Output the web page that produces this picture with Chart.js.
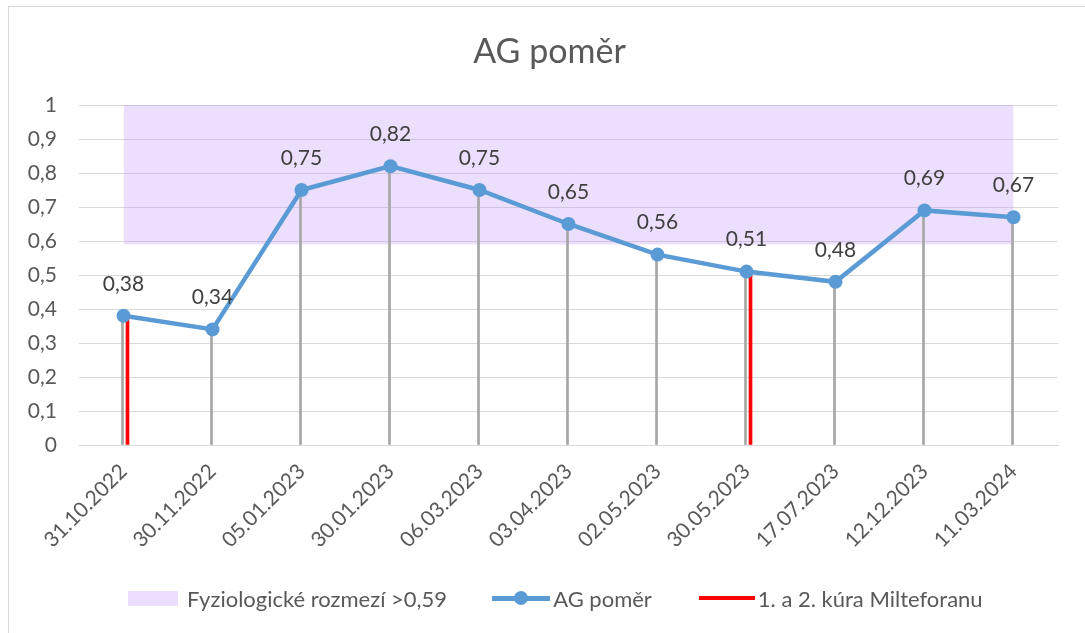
<!DOCTYPE html>
<html>
<head>
<meta charset="utf-8">
<script src="https://cdn.jsdelivr.net/npm/chart.js@4.4.1/dist/chart.umd.min.js"></script>
<style>
	html, body { margin: 0; padding: 0; background: #fff; }
	#wrap { position: relative; width: 1085px; height: 633px; overflow: hidden; font-family: Lato, sans-serif; }
	#frame { position: absolute; left: 8px; top: 6px; width: 1200px; height: 800px; border: 1px solid #D9D9D9; box-sizing: border-box; }
	#chart { position: absolute; left: 0; top: 0; }
	#title { position: absolute; left: 0; top: 30px; width: 1099px; line-height: 40px; text-align: center; font-size: 34px; color: #595959; }
	#legend { position: absolute; left: 128px; top: 586px; height: 24px; display: flex; align-items: center; font-size: 22px; color: #595959; white-space: nowrap; }
	.lg-box { width: 50px; height: 15px; background: rgba(190,150,250,0.3); margin-right: 9px; }
	.lg-line { position: relative; height: 5px; margin-right: 3px; }
	.lg-dot { position: absolute; left: 50%; top: 50%; width: 14px; height: 14px; border-radius: 50%; background: #5B9BD5; transform: translate(-50%, -50%); }
</style>
</head>
<body>
<div id="wrap">
	<div id="frame"></div>
	<canvas id="chart" width="1085" height="633"></canvas>
	<div id="title">AG poměr</div>
	<div id="legend">
		<span class="lg-box"></span><span>Fyziologické rozmezí &gt;0,59</span>
		<span class="lg-line" style="width:58px;background:#5B9BD5;margin-left:45px;"><span class="lg-dot"></span></span><span>AG poměr</span>
		<span class="lg-line" style="width:56px;height:4px;background:#FF0000;margin-left:47px;"></span><span>1. a 2. kúra Milteforanu</span>
	</div>
</div>
<script>
// data
var dates			= ["31.10.2022", "30.11.2022", "05.01.2023", "30.01.2023", "06.03.2023", "03.04.2023",
					   "02.05.2023", "30.05.2023", "17.07.2023", "12.12.2023", "11.03.2024"];
var agValues		= [0.38, 0.34, 0.75, 0.82, 0.75, 0.65, 0.56, 0.51, 0.48, 0.69, 0.67];
var kuraValues		= [0.38, null, null, null, null, null, null, 0.51, null, null, null];
var rangeTop		= [1, 1, 1, 1, 1, 1, 1, 1, 1, 1, 1];
var rangeBottom		= [0.59, 0.59, 0.59, 0.59, 0.59, 0.59, 0.59, 0.59, 0.59, 0.59, 0.59];

var FONT = "Lato, sans-serif";

function fmt(v) {
	var r = Math.round(v * 100) / 100;
	return String(r).replace(".", ",");
}

// value labels above the AG points
var valueLabels = {
	id: "valueLabels",
	afterDatasetsDraw: function(chart) {
		var meta = chart.getDatasetMeta(4);
		var ctx = chart.ctx;
		ctx.save();
		ctx.font = "21px " + FONT;
		ctx.fillStyle = "#404040";
		ctx.textAlign = "center";
		ctx.textBaseline = "middle";
		meta.data.forEach(function(pt, i) {
			ctx.fillText(fmt(agValues[i]), pt.x, pt.y - 32);
		});
		ctx.restore();
	}
};

var chart = new Chart(document.getElementById("chart"), {
	data: {
		labels: dates,
		datasets: [
			{ type: "line", data: rangeTop, fill: "+1", backgroundColor: "rgba(190,150,250,0.3)",
			  borderWidth: 0, pointRadius: 0, order: 4 },
			{ type: "line", data: rangeBottom, fill: false, borderWidth: 0, pointRadius: 0, order: 4 },
			// gray drop lines, then the red treatment marks just right of them
			{ type: "bar", data: agValues, backgroundColor: "#A6A6A6", barThickness: 2, order: 2 },
			{ type: "bar", data: kuraValues, backgroundColor: "#FF0000", barThickness: 8, maxBarThickness: 3, order: 3 },
			{ type: "line", data: agValues, borderColor: "#5B9BD5", backgroundColor: "#5B9BD5",
			  borderWidth: 4.5, pointRadius: 7, pointBorderWidth: 0, tension: 0, fill: false, order: 1 }
		]
	},
	options: {
		responsive: false,
		animation: false,
		devicePixelRatio: 1,
		layout: { padding: { left: 10, right: 27, top: 105, bottom: 0 } },
		plugins: {
			legend: { display: false },
			tooltip: { enabled: false }
		},
		scales: {
			x: {
				offset: true,
				grid: { display: false, drawTicks: false },
				border: { color: "#D9D9D9", width: 1 },
				ticks: {
					color: "#595959",
					font: { family: FONT, size: 21 },
					autoSkip: false,
					minRotation: 45,
					maxRotation: 45,
					padding: 14
				},
				afterFit: function(scale) { scale.height = 188; }
			},
			y: {
				min: 0,
				max: 1,
				grid: { color: "#D9D9D9", lineWidth: 1, drawTicks: false },
				border: { display: false },
				ticks: {
					stepSize: 0.1,
					color: "#595959",
					font: { family: FONT, size: 21 },
					padding: 22,
					callback: function(v) { return fmt(v); }
				},
				afterFit: function(scale) { scale.width = 69; }
			}
		}
	},
	plugins: [valueLabels]
});
</script>
</body>
</html>
